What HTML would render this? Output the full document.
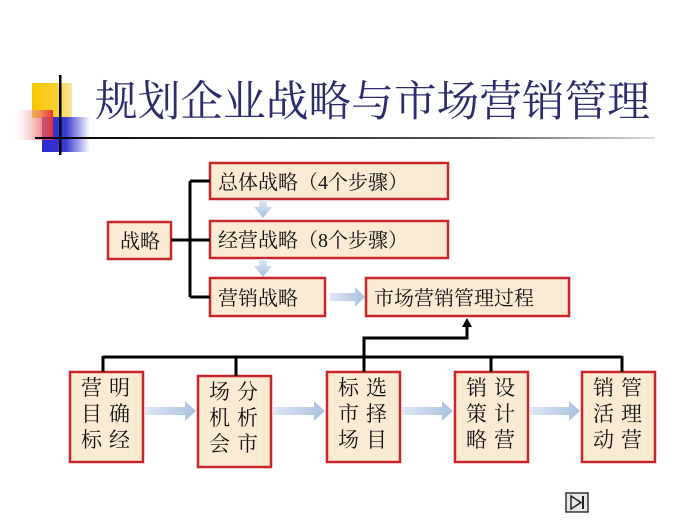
<!DOCTYPE html>
<html><head><meta charset="utf-8"><style>
body{margin:0;background:#fff;}
svg text{font-family:"Liberation Serif","Noto Serif CJK SC",serif;}
</style></head><body>
<svg width="700" height="524" xmlns="http://www.w3.org/2000/svg">
<defs>
<linearGradient id="yel" x1="0" x2="1"><stop offset="0" stop-color="#f7c800"/><stop offset="0.6" stop-color="#f9d030"/><stop offset="1" stop-color="#fbe9a0"/></linearGradient>
<linearGradient id="red" x1="0" x2="1"><stop offset="0" stop-color="#fff" stop-opacity="0"/><stop offset="1" stop-color="#e83030"/></linearGradient>
<linearGradient id="blu" x1="0" x2="1"><stop offset="0" stop-color="#2a2ad0"/><stop offset="0.5" stop-color="#3a3ad0"/><stop offset="1" stop-color="#fff"/></linearGradient>
<linearGradient id="ln" x1="0" x2="1"><stop offset="0" stop-color="#000"/><stop offset="0.7" stop-color="#555"/><stop offset="1" stop-color="#ddd"/></linearGradient>
<linearGradient id="arr" x1="0" x2="1"><stop offset="0" stop-color="#dfe8f5"/><stop offset="1" stop-color="#a8c0e0"/></linearGradient>
<linearGradient id="arrv" x1="0" x2="0" y1="0" y2="1"><stop offset="0" stop-color="#dfe8f5"/><stop offset="1" stop-color="#a8c0e0"/></linearGradient>
</defs>
<rect x="32" y="83" width="40" height="35" fill="url(#yel)"/>
<rect x="42" y="117" width="48" height="35" fill="url(#blu)"/>
<rect x="10" y="110" width="43" height="30" fill="url(#red)"/>
<rect x="59" y="75" width="2.5" height="80" fill="#000"/>
<rect x="35" y="137" width="620" height="2" fill="url(#ln)"/>
<text x="95" y="116" font-size="42.5" fill="#2c2c6c" textLength="555" lengthAdjust="spacingAndGlyphs">规划企业战略与市场营销管理</text>

<g fill="#fbebd3" stroke="#c8262a" stroke-width="2.5">
<rect x="108" y="222" width="63" height="37"/>
<rect x="210" y="163" width="238" height="36"/>
<rect x="210" y="221" width="238" height="37"/>
<rect x="210" y="278" width="115" height="38"/>
<rect x="366" y="278" width="203" height="38"/>
<rect x="70" y="372" width="73" height="90"/>
<rect x="198" y="376" width="73" height="91"/>
<rect x="327" y="372" width="73" height="90"/>
<rect x="455" y="372" width="73" height="90"/>
<rect x="582" y="372" width="73" height="90"/>
</g>
<g stroke="#000" stroke-width="3" fill="none">
<path d="M171 240H190M190 181V297M190 181H210M190 240H210M190 297H210"/>
<path d="M103 357H622M103 356V372M236 356V376M364 356V372M491 356V372M622 356V372"/>
<path d="M364 357V338H467V325"/>
</g>
<polygon points="462,327 472,327 467,318" fill="#000"/>
<g fill="url(#arrv)">
<path d="M259 200h8v7h5l-9 11-9-11h5z"/>
<path d="M259 259h8v7h5l-9 11-9-11h5z"/>
</g>
<g fill="url(#arr)">
<path d="M330 293h25v-6l10 10-10 10v-6h-25z"/>
<path d="M145 407h40v-6l11 10-11 10v-6h-40z"/>
<path d="M273 407h41v-6l11 10-11 10v-6h-41z"/>
<path d="M402 407h40v-6l11 10-11 10v-6h-40z"/>
<path d="M530 407h39v-6l11 10-11 10v-6h-39z"/>
</g>
<g font-size="20" fill="#111">
<text x="120" y="248">战略</text>
<text x="218" y="189">总体战略（4个步骤）</text>
<text x="218" y="247">经营战略（8个步骤）</text>
<text x="218" y="305">营销战略</text>
<text x="374" y="305">市场营销管理过程</text>
</g>
<g font-size="21" fill="#111">
<text x="81" y="395">营</text><text x="109" y="395">明</text>
<text x="81" y="421">目</text><text x="109" y="421">确</text>
<text x="81" y="447">标</text><text x="109" y="447">经</text>
<text x="209" y="399">场</text><text x="237" y="399">分</text>
<text x="209" y="425">机</text><text x="237" y="425">析</text>
<text x="209" y="451">会</text><text x="237" y="451">市</text>
<text x="338" y="395">标</text><text x="366" y="395">选</text>
<text x="338" y="421">市</text><text x="366" y="421">择</text>
<text x="338" y="447">场</text><text x="366" y="447">目</text>
<text x="466" y="395">销</text><text x="494" y="395">设</text>
<text x="466" y="421">策</text><text x="494" y="421">计</text>
<text x="466" y="447">略</text><text x="494" y="447">营</text>
<text x="593" y="395">销</text><text x="621" y="395">管</text>
<text x="593" y="421">活</text><text x="621" y="421">理</text>
<text x="593" y="447">动</text><text x="621" y="447">营</text>
</g>
<rect x="566" y="493" width="22" height="19" fill="#e8e8e8" stroke="#333" stroke-width="1.5"/>
<polygon points="571,496 581,502.5 571,509" fill="none" stroke="#222" stroke-width="1.5"/>
<rect x="582" y="496" width="2" height="13" fill="#222"/>
</svg>
</body></html>
